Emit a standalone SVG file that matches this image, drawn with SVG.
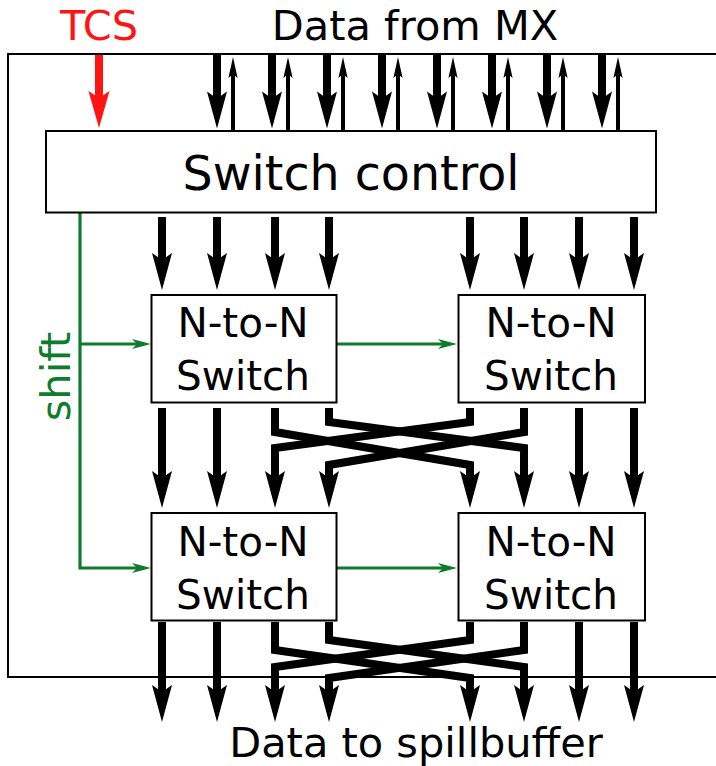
<svg xmlns="http://www.w3.org/2000/svg" width="716" height="766" viewBox="0 0 716 766">
<style>
  text { font-family: "DejaVu Sans", "Bitstream Vera Sans", sans-serif; }
  .lbl { font-size: 41.5px; fill: #000; text-anchor: middle; }
  .box { fill: #fff; stroke: #000; stroke-width: 2; }
  .nt { font-size: 40.5px; fill: #000; text-anchor: middle; }
  .thick { fill: none; stroke: #000; stroke-width: 8; stroke-linejoin: miter; marker-end: url(#bigArrow); }
  .thin { fill: none; stroke: #000; stroke-width: 4; marker-end: url(#smallArrow); }
  .green { fill: none; stroke: #0f7b2c; stroke-width: 3.2; }
  .garrow { marker-end: url(#greenArrow); }
  .red { fill: none; stroke: #ff1414; stroke-width: 8; marker-end: url(#redArrow); }
</style>
<defs>
  <marker id="bigArrow" markerUnits="userSpaceOnUse" orient="auto" refX="0" refY="0" markerWidth="60" markerHeight="30" viewBox="-15 -15 45 30" overflow="visible">
    <path d="M25,0 L-12,-10 L-5,0 L-12,10 Z" fill="#000"/>
  </marker>
  <marker id="redArrow" markerUnits="userSpaceOnUse" orient="auto" refX="0" refY="0" markerWidth="60" markerHeight="30" viewBox="-15 -15 45 30" overflow="visible">
    <path d="M25,0 L-12,-10.5 L-5,0 L-12,10.5 Z" fill="#ff1414"/>
  </marker>
  <marker id="smallArrow" markerUnits="userSpaceOnUse" orient="auto" refX="0" refY="0" markerWidth="30" markerHeight="20" viewBox="-10 -10 30 20" overflow="visible">
    <path d="M14,0 L-7,-4.6 L-3,0 L-7,4.6 Z" fill="#000"/>
  </marker>
  <marker id="greenArrow" markerUnits="userSpaceOnUse" orient="auto" refX="0" refY="0" markerWidth="30" markerHeight="20" viewBox="-10 -10 30 20" overflow="visible">
    <path d="M12,0 L-7,-5 L-2,0 L-7,5 Z" fill="#0f7b2c"/>
  </marker>
</defs>

<rect width="716" height="766" fill="#fff"/>

<g id="frame">
  <path d="M740,54 H8 V677 H740" fill="none" stroke="#000" stroke-width="2"/>
</g>

<g id="labels">
  <text x="99" y="40" class="lbl" style="fill:#ff1414">TCS</text>
  <text x="415" y="40" class="lbl">Data from MX</text>
  <text x="416" y="757" class="lbl">Data to spillbuffer</text>
  <text transform="translate(70,376.5) rotate(-90)" x="0" y="0" class="lbl" style="fill:#0f7b2c">shift</text>
</g>

<g id="connectors">
  <!-- TCS -->
  <path class="red" d="M99,55 V103"/>
  <!-- data from MX: thick down -->
  <path class="thick" d="M217,55 V103.5"/>
  <path class="thick" d="M272,55 V103.5"/>
  <path class="thick" d="M327,55 V103.5"/>
  <path class="thick" d="M382,55 V103.5"/>
  <path class="thick" d="M437,55 V103.5"/>
  <path class="thick" d="M492,55 V103.5"/>
  <path class="thick" d="M547,55 V103.5"/>
  <path class="thick" d="M602,55 V103.5"/>
  <!-- thin up -->
  <path class="thin" d="M233,130 V71"/>
  <path class="thin" d="M288,130 V71"/>
  <path class="thin" d="M343,130 V71"/>
  <path class="thin" d="M398,130 V71"/>
  <path class="thin" d="M453,130 V71"/>
  <path class="thin" d="M508,130 V71"/>
  <path class="thin" d="M563,130 V71"/>
  <path class="thin" d="M618,130 V71"/>
  <!-- switch control to first row -->
  <path class="thick" d="M162,217 V265"/>
  <path class="thick" d="M217,217 V265"/>
  <path class="thick" d="M275,217 V265"/>
  <path class="thick" d="M329,217 V265"/>
  <path class="thick" d="M470,217 V265"/>
  <path class="thick" d="M524,217 V265"/>
  <path class="thick" d="M579,217 V265"/>
  <path class="thick" d="M634,217 V265"/>
  <!-- first row to second row -->
  <path class="thick" d="M162,408 V483"/>
  <path class="thick" d="M217,408 V483"/>
  <path class="thick" d="M579,408 V483"/>
  <path class="thick" d="M634,408 V483"/>
  <path class="thick" d="M275,408 V432 L470,465 V483"/>
  <path class="thick" d="M329,408 V422 L524,448 V483"/>
  <path class="thick" d="M470,408 V422 L275,448 V483"/>
  <path class="thick" d="M524,408 V432 L329,465 V483"/>
  <!-- second row to output -->
  <path class="thick" d="M162,622 V697"/>
  <path class="thick" d="M217,622 V697"/>
  <path class="thick" d="M579,622 V697"/>
  <path class="thick" d="M634,622 V697"/>
  <path class="thick" d="M275,622 V650 L470,678 V697"/>
  <path class="thick" d="M329,622 V640 L524,667 V697"/>
  <path class="thick" d="M470,622 V640 L275,667 V697"/>
  <path class="thick" d="M524,622 V650 L329,678 V697"/>
  <!-- shift (green) -->
  <path class="green garrow" d="M80,213 V568 H139"/>
  <path class="green garrow" d="M80,344 H139"/>
  <path class="green garrow" d="M337,344 H445"/>
  <path class="green garrow" d="M337,568 H445"/>
</g>

<g id="switch-control">
  <rect class="box" x="46" y="131" width="610" height="81.5"/>
  <text x="351" y="190" style="font-size:47.5px;text-anchor:middle">Switch control</text>
</g>

<g id="switch-1">
  <rect class="box" x="151.5" y="295" width="185" height="107.5"/>
  <text class="nt" x="243" y="337">N-to-N</text>
  <text class="nt" x="243" y="390">Switch</text>
</g>
<g id="switch-2">
  <rect class="box" x="458.5" y="295" width="186.5" height="107.5"/>
  <text class="nt" x="551" y="337">N-to-N</text>
  <text class="nt" x="551" y="390">Switch</text>
</g>
<g id="switch-3">
  <rect class="box" x="151.5" y="513" width="185" height="107.5"/>
  <text class="nt" x="243" y="555.5">N-to-N</text>
  <text class="nt" x="243" y="608.5">Switch</text>
</g>
<g id="switch-4">
  <rect class="box" x="458.5" y="513" width="186.5" height="107.5"/>
  <text class="nt" x="551" y="555.5">N-to-N</text>
  <text class="nt" x="551" y="608.5">Switch</text>
</g>
</svg>
